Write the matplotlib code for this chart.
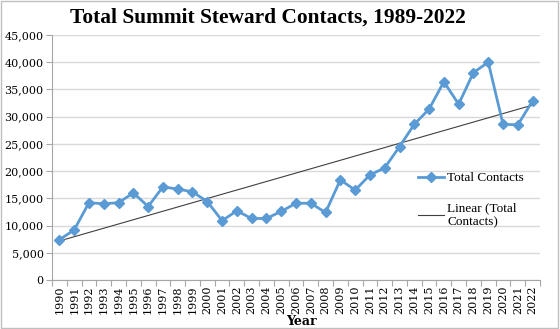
import numpy as np
import matplotlib
matplotlib.use("Agg")
import matplotlib.pyplot as plt
from matplotlib.ticker import FuncFormatter

years = [str(y) for y in range(1990, 2023)]
contacts = [7400, 9200, 14200, 14000, 14200, 16000, 13500, 17100, 16700, 16200,
            14400, 10900, 12700, 11300, 11300, 12600, 14100, 14100, 12400, 18400,
            16500, 19300, 20600, 24500, 28600, 31400, 36400, 32300, 38100, 40000,
            28600, 28500, 32900]

serif = ["DejaVu Serif"]
blue = "#5B9BD5"

fig = plt.figure(figsize=(5.6, 3.29), dpi=100)
ax = fig.add_axes([52 / 560, 1 - 280 / 329, 488 / 560, 245 / 329])

x = np.arange(len(years))
ax.plot(x, contacts, color=blue, lw=2, marker="D", ms=5, mec=blue, mfc=blue,
        label="Total Contacts", zorder=3)

# least-squares trend line
slope, intercept = np.polyfit(x, contacts, 1)
ax.plot(x, slope * x + intercept, color="#404040", lw=0.8,
        label="Linear (Total\nContacts)", zorder=2)

ax.set_xlim(-0.5, len(years) - 0.5)
ax.set_ylim(0, 45000)
ax.set_yticks(np.arange(0, 45001, 5000))
ax.yaxis.set_major_formatter(FuncFormatter(lambda v, p: f"{int(v):,}"))
ax.set_xticks(x)
ax.set_xticklabels(years, rotation=90, family=serif, fontsize=8)
ax.set_xticks(np.arange(-0.5, len(years)), minor=True)
ax.tick_params(axis="x", which="major", length=0, pad=4)
ax.tick_params(axis="x", which="minor", length=4, color="#A6A6A6", width=0.8)
ax.tick_params(axis="y", length=4, color="#A6A6A6", width=0.8, pad=2)
for lab in ax.get_yticklabels():
    lab.set_family(serif)
    lab.set_fontsize(8)

ax.grid(axis="y", color="#D9D9D9", lw=1)
ax.set_axisbelow(True)
for side in ("top", "right"):
    ax.spines[side].set_visible(False)
for side in ("left", "bottom"):
    ax.spines[side].set_color("#A6A6A6")
    ax.spines[side].set_linewidth(0.8)

ax.set_xlabel("Year", family=serif, fontsize=9, fontweight="bold")
ax.xaxis.set_label_coords(0.512, -(315 - 280) / 245)

fig.text(0.479, 0.947, "Total Summit Steward Contacts, 1989-2022", ha="center",
         va="center", family=["Liberation Serif"], fontsize=15.4,
         fontweight="bold")

leg = ax.legend(loc="upper left", bbox_to_anchor=(418 / 560, 1 - 172 / 329),
                bbox_transform=fig.transFigure, frameon=False,
                prop={"family": ["Liberation Serif"], "size": 9.5},
                handlelength=2.0, handletextpad=0.2, labelspacing=1.35,
                borderaxespad=0, borderpad=0)

fig.patches.append(plt.Rectangle((0.002, 0.003), 0.995, 0.993, fill=False,
                                 edgecolor="#BFBFBF", lw=1,
                                 transform=fig.transFigure, figure=fig))

fig.savefig("out.png", dpi=100)
